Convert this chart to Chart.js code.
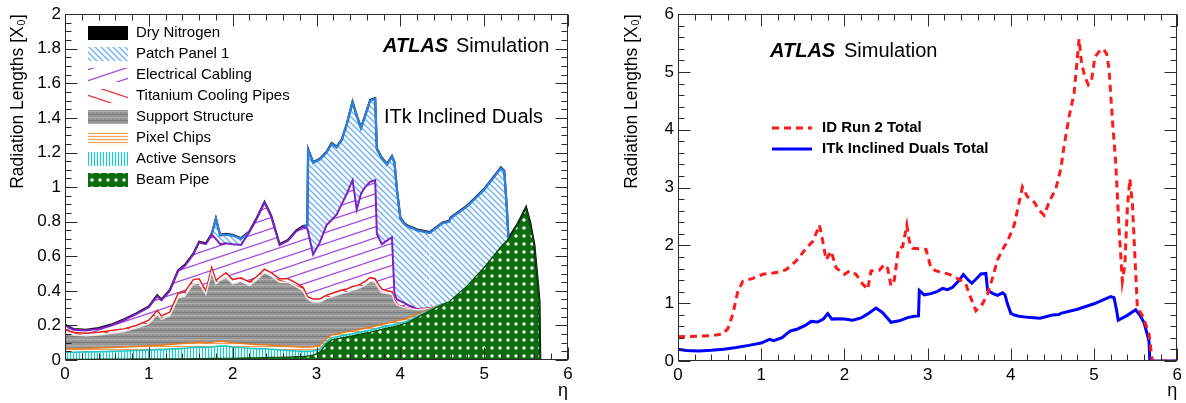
<!DOCTYPE html>
<html><head><meta charset="utf-8">
<script src="https://cdn.jsdelivr.net/npm/chart.js@4.4.1/dist/chart.umd.min.js"></script>
<style>
html,body{margin:0;padding:0;background:#fff;}
#wrap{position:relative;width:1186px;height:403px;overflow:hidden;background:#fff;}
canvas{position:absolute;top:0;}
#left{left:0;} #right{left:593px;}
</style></head><body>
<div id="wrap"><canvas id="left" width="593" height="403"></canvas><canvas id="right" width="593" height="403"></canvas></div>
<script>
// ---------- data ----------
const etaGrid = [0,0.1,0.25,0.4,0.55,0.7,0.85,1.0,1.1,1.15,
 1.25,1.35,1.43,1.53,1.6,1.68,1.75,1.8,1.85,1.92,
 2.0,2.1,2.2,2.28,2.38,2.46,2.56,2.66,2.76,2.84,
 2.89,2.9,2.96,3.04,3.12,3.18,3.24,3.3,3.36,3.43,
 3.48,3.53,3.58,3.64,3.7,3.72,3.78,3.84,3.9,3.93,
 3.96,4.0,4.05,4.1,4.2,4.35,4.5,4.58,4.6,4.8,
 5.0,5.2,5.24,5.27,5.29,5.4,5.5,5.55,5.6,5.64,
 5.66,5.67,5.68,6.0];

// cumulative tops of the stacked material layers (radiation lengths)
const beamPipeTop = [0.004,0.004,0.004,0.005,0.005,0.005,0.006,0.006,0.006,0.006,
 0.007,0.007,0.007,0.008,0.008,0.008,0.009,0.009,0.009,0.010,
 0.010,0.011,0.012,0.013,0.014,0.015,0.016,0.017,0.019,0.020,
 0.022,0.022,0.028,0.045,0.095,0.115,0.122,0.128,0.134,0.140,
 0.145,0.150,0.155,0.160,0.168,0.170,0.178,0.184,0.190,0.194,
 0.198,0.203,0.210,0.220,0.245,0.285,0.320,0.335,0.345,0.430,
 0.535,0.655,0.675,0.690,0.700,0.785,0.880,0.790,0.660,0.450,
 0.340,0,0,0];
const activeSensorsTop = [0.045,0.045,0.047,0.048,0.050,0.052,0.055,0.058,0.060,0.060,
 0.063,0.066,0.068,0.072,0.075,0.073,0.075,0.078,0.080,0.080,
 0.075,0.072,0.068,0.066,0.065,0.062,0.058,0.055,0.052,0.050,
 0.050,0.050,0.052,0.062,0.107,0.127,0.134,0.140,0.146,0.152,
 0.157,0.162,0.167,0.172,0.180,0.182,0.190,0.196,0.202,0.206,
 0.210,0.214,0.220,0.229,0.252,0.290,0.322,0.335,0.345,0.430,
 0.535,0.655,0.675,0.690,0.700,0.785,0.880,0.790,0.660,0.450,
 0.340,0,0,0];
const pixelChipsTop = [0.065,0.065,0.067,0.070,0.072,0.075,0.078,0.082,0.085,0.086,
 0.090,0.094,0.097,0.100,0.104,0.100,0.103,0.106,0.108,0.105,
 0.100,0.097,0.093,0.090,0.088,0.085,0.082,0.080,0.077,0.075,
 0.075,0.075,0.077,0.085,0.125,0.145,0.151,0.157,0.163,0.169,
 0.174,0.179,0.184,0.189,0.197,0.199,0.207,0.213,0.219,0.223,
 0.227,0.231,0.236,0.244,0.264,0.296,0.323,0.335,0.345,0.430,
 0.535,0.655,0.675,0.690,0.700,0.785,0.880,0.790,0.660,0.450,
 0.340,0,0,0];
const supportTop = [0.155,0.145,0.140,0.145,0.155,0.165,0.185,0.210,0.265,0.235,
 0.255,0.360,0.370,0.440,0.445,0.380,0.510,0.440,0.460,0.480,
 0.440,0.455,0.430,0.460,0.505,0.485,0.450,0.450,0.425,0.400,
 0.355,0.350,0.335,0.335,0.355,0.365,0.375,0.385,0.390,0.405,
 0.410,0.420,0.435,0.455,0.450,0.430,0.390,0.385,0.380,0.340,
 0.320,0.310,0.303,0.298,0.290,0.298,0.323,0.335,0.345,0.430,
 0.535,0.655,0.675,0.690,0.700,0.785,0.880,0.790,0.660,0.450,
 0.340,0,0,0];
const titaniumTop = [0.175,0.160,0.155,0.160,0.170,0.180,0.200,0.230,0.287,0.255,
 0.277,0.385,0.395,0.465,0.470,0.400,0.535,0.460,0.480,0.505,
 0.465,0.475,0.450,0.480,0.525,0.505,0.470,0.470,0.445,0.420,
 0.370,0.365,0.353,0.353,0.375,0.385,0.395,0.405,0.410,0.425,
 0.430,0.440,0.455,0.477,0.470,0.450,0.410,0.400,0.395,0.350,
 0.325,0.312,0.305,0.300,0.292,0.300,0.323,0.335,0.345,0.430,
 0.535,0.655,0.675,0.690,0.700,0.785,0.880,0.790,0.660,0.450,
 0.340,0,0,0];
const cablingTop = [0.200,0.175,0.170,0.180,0.200,0.230,0.265,0.305,0.370,0.345,
 0.400,0.515,0.545,0.610,0.680,0.670,0.725,0.700,0.670,0.675,
 0.670,0.665,0.740,0.810,0.910,0.830,0.665,0.690,0.745,0.770,
 0.760,0.740,0.610,0.680,0.780,0.810,0.840,0.900,0.960,1.040,
 0.870,0.960,1.000,1.030,1.040,0.730,0.670,0.690,0.710,0.380,
 0.350,0.340,0.330,0.315,0.295,0.300,0.323,0.335,0.345,0.430,
 0.535,0.655,0.675,0.690,0.700,0.785,0.880,0.790,0.660,0.450,
 0.340,0,0,0];
const patchPanelTop = [0.200,0.175,0.170,0.180,0.200,0.230,0.265,0.305,0.370,0.345,
 0.400,0.515,0.545,0.610,0.680,0.670,0.725,0.815,0.720,0.725,
 0.720,0.700,0.740,0.810,0.910,0.830,0.665,0.690,0.745,0.770,
 0.775,1.215,1.140,1.160,1.200,1.250,1.230,1.270,1.360,1.490,
 1.410,1.340,1.410,1.500,1.510,1.220,1.165,1.130,1.175,1.140,
 0.980,0.820,0.785,0.770,0.750,0.735,0.790,0.800,0.820,0.890,
 0.985,1.110,1.090,0.880,0.700,0.785,0.880,0.790,0.660,0.450,
 0.340,0,0,0];
// top of the stack (dry nitrogen) = ITk Inclined Duals total
const itkTotal = [0.205,0.180,0.175,0.185,0.205,0.235,0.270,0.310,0.375,0.350,
 0.405,0.520,0.550,0.615,0.685,0.675,0.730,0.820,0.725,0.730,
 0.725,0.705,0.745,0.815,0.915,0.835,0.670,0.695,0.750,0.775,
 0.780,1.220,1.145,1.165,1.205,1.255,1.235,1.275,1.365,1.495,
 1.415,1.345,1.415,1.505,1.515,1.225,1.170,1.135,1.180,1.145,
 0.985,0.825,0.790,0.775,0.755,0.740,0.795,0.805,0.825,0.895,
 0.990,1.115,1.095,0.885,0.705,0.790,0.885,0.795,0.665,0.455,
 0.345,0,0,0];

const run2Eta = [0,0.26,0.42,0.54,0.60,0.66,0.72,0.78,0.90,1.02,1.18,1.30,1.42,1.54,1.62,1.70,1.74,1.78,1.84,1.90,
 2.00,2.06,2.14,2.22,2.28,2.32,2.42,2.48,2.52,2.56,2.60,2.65,2.70,2.75,2.78,2.82,2.98,3.04,3.10,3.26,
 3.38,3.46,3.50,3.58,3.66,3.72,3.78,3.84,3.90,3.96,4.04,4.10,4.14,4.20,4.28,4.34,4.40,4.46,4.54,4.60,
 4.64,4.70,4.76,4.82,4.85,4.89,4.93,4.97,5.01,5.07,5.11,5.15,5.18,5.22,5.26,5.30,5.34,5.37,5.40,5.43,
 5.46,5.49,5.52,5.59,5.66,5.70,6.00];
const run2Total = [0.42,0.43,0.44,0.47,0.56,0.82,1.21,1.38,1.43,1.50,1.53,1.58,1.73,1.95,2.07,2.35,2.07,1.75,1.90,1.61,
 1.50,1.56,1.50,1.33,1.24,1.56,1.57,1.67,1.60,1.30,1.40,1.95,1.98,2.35,2.07,1.95,1.93,1.61,1.56,1.50,
 1.41,1.33,1.16,0.87,0.99,1.16,1.44,1.75,1.93,2.07,2.35,2.75,3.01,2.84,2.75,2.61,2.52,2.75,2.98,3.32,
 3.72,4.23,4.63,5.57,5.15,4.92,4.78,4.86,5.26,5.37,5.40,5.32,5.06,4.18,3.44,2.30,1.38,1.67,2.64,3.15,
 2.75,1.84,0.93,0.76,0.47,0.00,0.00];

const layerNames = ['Beam Pipe','Active Sensors','Pixel Chips','Support Structure','Titanium Cooling Pipes','Electrical Cabling','Patch Panel 1','Dry Nitrogen'];
const lineNames = ['ID Run 2 Total','ITk Inclined Duals Total'];
const xTickValues = [0,1,2,3,4,5,6];
const leftYTickValues = [0,0.2,0.4,0.6,0.8,1,1.2,1.4,1.6,1.8,2];
const rightYTickValues = [0,1,2,3,4,5,6];
const yTitle = 'Radiation Lengths [X\u2080]';
const xTitle = '\u03b7';

// ---------- styling ----------
Chart.defaults.font.family = '"Liberation Sans", Arial, Helvetica, sans-serif';
Chart.defaults.color = '#000';
const FONT = '"Liberation Sans", Arial, Helvetica, sans-serif';

const leftCtx = document.getElementById('left').getContext('2d');
function tile(w,h,bg,draw){const c=document.createElement('canvas');c.width=w;c.height=h;const g=c.getContext('2d');if(bg){g.fillStyle=bg;g.fillRect(0,0,w,h);}draw(g,w,h);return leftCtx.createPattern(c,'repeat');}

const pBeam = tile(8,8,'#0b6d0b',(g)=>{g.fillStyle='#ffffff';g.beginPath();g.arc(4,4,1.7,0,Math.PI*2);g.fill();});
const pSensors = tile(3,4,'#e6fbfb',(g,w,h)=>{g.fillStyle='#22cccc';g.fillRect(1,0,1,h);});
const pChips = tile(4,3,'#fff6ee',(g,w,h)=>{g.fillStyle='#f0a05a';g.fillRect(0,1,w,1);});
const pSupport = tile(4,6,'#949494',(g,w,h)=>{g.fillStyle='#7c7c7c';g.fillRect(0,0,w,1);g.fillStyle='#b0b0b0';g.fillRect(0,3,w,1);g.fillStyle='#a4a4a4';g.fillRect(1,1,1,1);g.fillRect(3,4,1,1);});
const pTitanium = tile(33,11,null,(g,w,h)=>{g.strokeStyle='#e23a3a';g.lineWidth=1.2;g.beginPath();for(const o of [-h,0,h]){g.moveTo(0,o);g.lineTo(w,o+h);}g.stroke();});
const pCabling = tile(33,11,null,(g,w,h)=>{g.strokeStyle='#a64ce0';g.lineWidth=1.2;g.beginPath();for(const o of [-h,0,h]){g.moveTo(0,o+h);g.lineTo(w,o);}g.stroke();});
const pPatch = tile(6,6,null,(g,w,h)=>{g.strokeStyle='#74b4f0';g.lineWidth=1.5;g.beginPath();g.moveTo(-1,-1);g.lineTo(w+1,h+1);g.moveTo(w-1,-1);g.lineTo(w+1,1);g.moveTo(-1,h-1);g.lineTo(1,h+1);g.stroke();});

const layerTops = [beamPipeTop, activeSensorsTop, pixelChipsTop, supportTop, titaniumTop, cablingTop, patchPanelTop, itkTotal];
const layerFills = [pBeam, pSensors, pChips, pSupport, pTitanium, pCabling, pPatch, '#000000'];
const layerBorders = ['#0a4a0a','#22c4c4','#e57a1e','#e8e8e8','#e41e1e','#7c22c4','#2f80d8','#120a1a'];
const layerWidths = [1.2,1.6,1.5,1.5,1.5,2,2.4,2];

const rootFrame = {
  id:'rootFrame',
  afterDatasetsDraw(chart, args, o){
    const {ctx, chartArea:a, scales:{x,y}} = chart;
    ctx.save();
    ctx.strokeStyle='#2a2a2a'; ctx.lineWidth=1;
    const L=Math.round(a.left)+0.5, R=Math.round(a.right)-0.5, T=Math.round(a.top)+0.5, B=Math.round(a.bottom)-0.5;
    ctx.beginPath();
    const nx=Math.round((o.xMax-o.xMin)/o.xMinor);
    for(let k=0;k<=nx;k++){const v=o.xMin+k*o.xMinor;const maj=o.xMajor.some(m=>Math.abs(m-v)<1e-6);const len=maj?o.majLen:o.minLen;const px=Math.round(x.getPixelForValue(v))+0.5;ctx.moveTo(px,B);ctx.lineTo(px,B-len);ctx.moveTo(px,T);ctx.lineTo(px,T+len);}
    const ny=Math.round((o.yMax-o.yMin)/o.yMinor);
    for(let k=0;k<=ny;k++){const v=o.yMin+k*o.yMinor;const maj=o.yMajor.some(m=>Math.abs(m-v)<1e-6);const len=maj?o.majLen:o.minLen;const py=Math.round(y.getPixelForValue(v))+0.5;ctx.moveTo(L,py);ctx.lineTo(L+len,py);ctx.moveTo(R,py);ctx.lineTo(R-len,py);}
    ctx.stroke();
    ctx.strokeRect(L,T,R-L,B-T);
    ctx.restore();
  }
};
Chart.register(rootFrame);

function yLabel(v){return Number.isInteger(v)?String(v):v.toFixed(1);}

// ---------- left chart: stacked material contributions ----------
const leftDatasets = layerTops.map((arr,i)=>({
  label: layerNames[i],
  data: etaGrid.map((e,k)=>({x:e,y:arr[k]})),
  fill: i===0 ? 'origin' : '-1',
  backgroundColor: layerFills[i],
  borderColor: layerBorders[i],
  borderWidth: layerWidths[i],
  pointRadius: 0, tension: 0,
  segment: {
    borderColor: (c)=>{
      if(i===0||i===layerTops.length-1) return undefined;
      const lo=layerTops[i-1], a=c.p0DataIndex, b=c.p1DataIndex;
      return (arr[a]-lo[a]<1e-4 && arr[b]-lo[b]<1e-4) ? 'rgba(0,0,0,0)' : undefined;
    }
  }
}));

const leftNotes = {
  id:'leftNotes',
  afterDraw(chart){
    const ctx=chart.ctx; ctx.save();
    ctx.textBaseline='middle'; ctx.textAlign='left'; ctx.fillStyle='#000';
    const rows=[7,6,5,4,3,2,1,0];
    const ys=[33,54,75,96,117,138,159,180];
    rows.forEach((li,r)=>{
      ctx.fillStyle=layerFills[li]; ctx.fillRect(88,ys[r]-7,40,14);
      ctx.fillStyle='#000'; ctx.font='15px '+FONT; ctx.fillText(layerNames[li],136,ys[r]);
    });
    ctx.font='italic bold 20px '+FONT; ctx.fillText('ATLAS',383,46);
    ctx.font='20px '+FONT; ctx.fillText('Simulation',456,46);
    ctx.fillText('ITk Inclined Duals',384,117);
    ctx.restore();
  }
};

new Chart(leftCtx,{
  type:'line',
  data:{datasets:leftDatasets},
  plugins:[leftNotes],
  options:{
    responsive:false, animation:false, devicePixelRatio:1,
    layout:{padding:{left:0,right:25,top:11,bottom:0}},
    plugins:{legend:{display:false},tooltip:{enabled:false},filler:{drawTime:'beforeDatasetsDraw'},
      rootFrame:{xMin:0,xMax:6,xMinor:0.2,xMajor:xTickValues,yMin:0,yMax:2,yMinor:0.05,yMajor:leftYTickValues,majLen:12,minLen:6}},
    scales:{
      x:{type:'linear',min:0,max:6,
        afterBuildTicks:(s)=>{s.ticks=xTickValues.map(v=>({value:v}));},
        afterFit:(s)=>{s.height=43;},
        grid:{display:false,drawTicks:false},border:{display:false},
        ticks:{autoSkip:false,maxRotation:0,padding:4,font:{size:17},callback:(v)=>String(v)},
        title:{display:true,text:xTitle,align:'end',font:{size:18},padding:{top:0,bottom:1}}},
      y:{type:'linear',min:0,max:2,
        afterBuildTicks:(s)=>{s.ticks=leftYTickValues.map(v=>({value:v}));},
        afterFit:(s)=>{s.width=65;},
        grid:{display:false,drawTicks:false},border:{display:false},
        ticks:{autoSkip:false,padding:4,font:{size:17},callback:(v)=>yLabel(v)},
        title:{display:true,text:yTitle,align:'end',font:{size:17.5},padding:{top:7.5,bottom:0}}}
    }
  }
});

// ---------- right chart: totals ----------
const rightNotes = {
  id:'rightNotes',
  afterDraw(chart){
    const ctx=chart.ctx; ctx.save();
    ctx.textBaseline='middle'; ctx.textAlign='left'; ctx.fillStyle='#000';
    ctx.font='italic bold 20px '+FONT; ctx.fillText('ATLAS',177,51);
    ctx.font='20px '+FONT; ctx.fillText('Simulation',251,51);
    ctx.lineWidth=3;
    ctx.strokeStyle='#ff1a1a'; ctx.setLineDash([7,5]); ctx.beginPath(); ctx.moveTo(179,128); ctx.lineTo(219,128); ctx.stroke();
    ctx.setLineDash([]); ctx.strokeStyle='#0000ff'; ctx.beginPath(); ctx.moveTo(179,149); ctx.lineTo(219,149); ctx.stroke();
    ctx.font='bold 15px '+FONT;
    ctx.fillText(lineNames[0],229,128);
    ctx.fillText(lineNames[1],229,149);
    ctx.restore();
  }
};

new Chart(document.getElementById('right').getContext('2d'),{
  type:'line',
  data:{datasets:[
    {label:lineNames[0],data:run2Eta.map((e,k)=>({x:e,y:run2Total[k]})),borderColor:'#ff1a1a',borderWidth:3,borderDash:[7,5],pointRadius:0,tension:0,fill:false},
    {label:lineNames[1],data:etaGrid.map((e,k)=>({x:e,y:itkTotal[k]})),borderColor:'#0000ff',borderWidth:3,pointRadius:0,tension:0,fill:false}
  ]},
  plugins:[rightNotes],
  options:{
    responsive:false, animation:false, devicePixelRatio:1,
    layout:{padding:{left:0,right:8,top:10,bottom:0}},
    plugins:{legend:{display:false},tooltip:{enabled:false},
      rootFrame:{xMin:0,xMax:6,xMinor:0.2,xMajor:xTickValues,yMin:0,yMax:6,yMinor:0.2,yMajor:rightYTickValues,majLen:12,minLen:6}},
    scales:{
      x:{type:'linear',min:0,max:6,
        afterBuildTicks:(s)=>{s.ticks=xTickValues.map(v=>({value:v}));},
        afterFit:(s)=>{s.height=42;},
        grid:{display:false,drawTicks:false},border:{display:false},
        ticks:{autoSkip:false,maxRotation:0,padding:4,font:{size:17},callback:(v)=>String(v)},
        title:{display:true,text:xTitle,align:'end',font:{size:18},padding:{top:0,bottom:1}}},
      y:{type:'linear',min:0,max:6,
        afterBuildTicks:(s)=>{s.ticks=rightYTickValues.map(v=>({value:v}));},
        afterFit:(s)=>{s.width=85;},
        grid:{display:false,drawTicks:false},border:{display:false},
        ticks:{autoSkip:false,padding:4,font:{size:17},callback:(v)=>String(v)},
        title:{display:true,text:yTitle,align:'end',font:{size:17.5},padding:{top:28.5,bottom:0}}}
    }
  }
});
</script>
</body></html>
